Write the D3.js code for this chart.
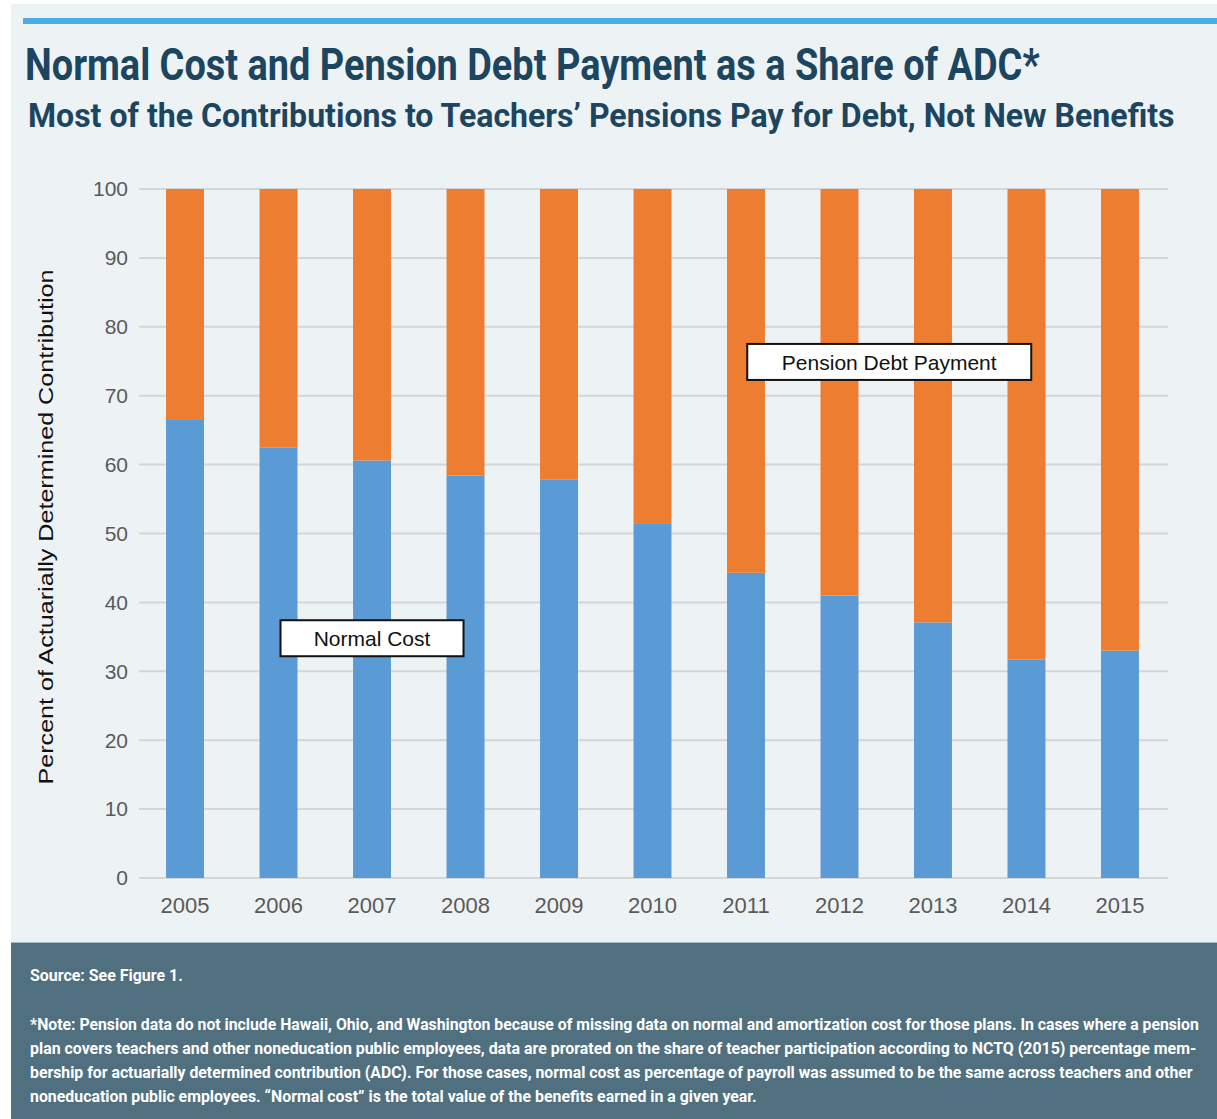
<!DOCTYPE html>
<html>
<head>
<meta charset="utf-8">
<script src="https://cdn.jsdelivr.net/npm/d3@7"></script>
<style>
  body { margin: 0; background: #fff; }
  svg { display: block; }
</style>
</head>
<body>
<svg id="viz"></svg>
<script>
// chart data
const years = ["2005", "2006", "2007", "2008", "2009", "2010", "2011", "2012", "2013", "2014", "2015"];
const normalCost = [66.6, 62.5, 60.6, 58.4, 57.8, 51.5, 44.3, 41.0, 37.1, 31.7, 33.0];
const debtPayment = normalCost.map(v => 100 - v);
const yTicks = [0, 10, 20, 30, 40, 50, 60, 70, 80, 90, 100];

const titleText = "Normal Cost and Pension Debt Payment as a Share of ADC*";
const subtitleText = "Most of the Contributions to Teachers\u2019 Pensions Pay for Debt, Not New Benefits";
const yTitle = "Percent of Actuarially Determined Contribution";
const sourceText = "Source: See Figure 1.";
const noteLines = [
  "*Note: Pension data do not include Hawaii, Ohio, and Washington because of missing data on normal and amortization cost for those plans. In cases where a pension",
  "plan covers teachers and other noneducation public employees, data are prorated on the share of teacher participation according to NCTQ (2015) percentage mem-",
  "bership for actuarially determined contribution (ADC). For those cases, normal cost as percentage of payroll was assumed to be the same across teachers and other",
  "noneducation public employees. \u201CNormal cost\u201D is the total value of the benefits earned in a given year."
];
const noteWidths = [1170, 1167, 1163, 727];

const width = 1217, height = 1119;
const condensed = "'Liberation Sans Narrow', 'Roboto', 'Liberation Sans', sans-serif";
const plain = "'Liberation Sans', Arial, Helvetica, sans-serif";

const svg = d3.select("#viz").attr("width", width).attr("height", height);

// squeeze a text horizontally so it spans the given width (condensed look)
function fitText(sel, x, y, w) {
  const natural = sel.node().getComputedTextLength();
  const k = Math.min(1, w / natural);
  sel.attr("x", 0).attr("y", 0)
    .attr("transform", `translate(${x},${y}) scale(${k},1)`);
}

// panel background + top rule
svg.append("rect").attr("x", 11).attr("y", 4).attr("width", width - 11).attr("height", height - 4)
  .attr("fill", "#edf2f5");
svg.append("rect").attr("x", 23).attr("y", 18).attr("width", width - 23).attr("height", 6)
  .attr("fill", "#4aade2");

// titles
const title = svg.append("text")
  .attr("font-family", condensed).attr("font-weight", "bold").attr("font-size", 45)
  .attr("fill", "#1c4560")
  .text(titleText);
fitText(title, 25, 80, 1015);
const subtitle = svg.append("text")
  .attr("font-family", condensed).attr("font-weight", "bold").attr("font-size", 34)
  .attr("fill", "#1c4560")
  .text(subtitleText);
fitText(subtitle, 28, 127, 1147);

// scales
const x = d3.scaleBand().domain(years).range([138, 1167]).paddingInner(0.594).paddingOuter(0.3);
const y = d3.scaleLinear().domain([0, 100]).range([878, 189]);

// grid lines
const grid = svg.append("g");
grid.selectAll("line").data(yTicks).enter().append("line")
  .attr("x1", 139).attr("x2", 1168)
  .attr("y1", d => y(d)).attr("y2", d => y(d))
  .attr("stroke", "#d3d6d8").attr("stroke-width", 2);

// y tick labels
svg.append("g").selectAll("text").data(yTicks).enter().append("text")
  .attr("x", 128).attr("y", d => y(d)).attr("dy", "0.35em")
  .attr("text-anchor", "end")
  .attr("font-family", plain).attr("font-size", 21).attr("fill", "#5a5a5a")
  .text(d => d);

// x tick labels
svg.append("g").selectAll("text").data(years).enter().append("text")
  .attr("x", d => x(d) + x.bandwidth() / 2).attr("y", 913)
  .attr("text-anchor", "middle")
  .attr("font-family", plain).attr("font-size", 22).attr("fill", "#5a5a5a")
  .text(d => d);

// y axis title
svg.append("text")
  .attr("transform", "translate(53,527) rotate(-90)")
  .attr("text-anchor", "middle")
  .attr("font-family", plain).attr("font-size", 20).attr("fill", "#111")
  .attr("textLength", 515).attr("lengthAdjust", "spacingAndGlyphs")
  .text(yTitle);

// stacked bars
const bars = svg.append("g");
bars.selectAll("rect.nc").data(years).enter().append("rect").attr("class", "nc")
  .attr("x", d => x(d)).attr("width", x.bandwidth())
  .attr("y", (d, i) => y(normalCost[i]))
  .attr("height", (d, i) => y(0) - y(normalCost[i]))
  .attr("fill", "#5b9bd5");
bars.selectAll("rect.dp").data(years).enter().append("rect").attr("class", "dp")
  .attr("x", d => x(d)).attr("width", x.bandwidth())
  .attr("y", (d, i) => y(normalCost[i] + debtPayment[i]))
  .attr("height", (d, i) => y(normalCost[i]) - y(normalCost[i] + debtPayment[i]))
  .attr("fill", "#ed7d31");

// series labels in boxes
const labels = [
  { text: "Normal Cost", cx: x("2007") + x.bandwidth() / 2, v: 34.8, w: 183 },
  { text: "Pension Debt Payment", cx: (x("2012") + x("2013")) / 2 + x.bandwidth() / 2 + 3, v: 74.9, w: 284 }
];
const lab = svg.append("g").selectAll("g").data(labels).enter().append("g")
  .attr("transform", d => `translate(${d.cx},${y(d.v)})`);
lab.append("rect")
  .attr("x", d => -d.w / 2).attr("y", -18).attr("width", d => d.w).attr("height", 36)
  .attr("fill", "#fff").attr("stroke", "#111").attr("stroke-width", 2);
lab.append("text")
  .attr("text-anchor", "middle").attr("dy", "0.36em")
  .attr("font-family", plain).attr("font-size", 21).attr("fill", "#111")
  .text(d => d.text);

// footer
svg.append("rect").attr("x", 11).attr("y", 942).attr("width", width - 11).attr("height", height - 942)
  .attr("fill", "#50707f");
svg.append("line").attr("x1", 11).attr("x2", width).attr("y1", 942.5).attr("y2", 942.5)
  .attr("stroke", "#a9bcc6").attr("stroke-width", 1);
const src = svg.append("text")
  .attr("font-family", condensed).attr("font-weight", "bold").attr("font-size", 17)
  .attr("fill", "#fff")
  .text(sourceText);
fitText(src, 30, 981, 153);
svg.append("g").selectAll("text").data(noteLines).enter().append("text")
  .attr("font-family", condensed).attr("font-weight", "bold").attr("font-size", 17)
  .attr("fill", "#fff")
  .text(d => d)
  .each(function(d, i) { fitText(d3.select(this), 30, 1030 + i * 24, noteWidths[i]); });
</script>
</body>
</html>
